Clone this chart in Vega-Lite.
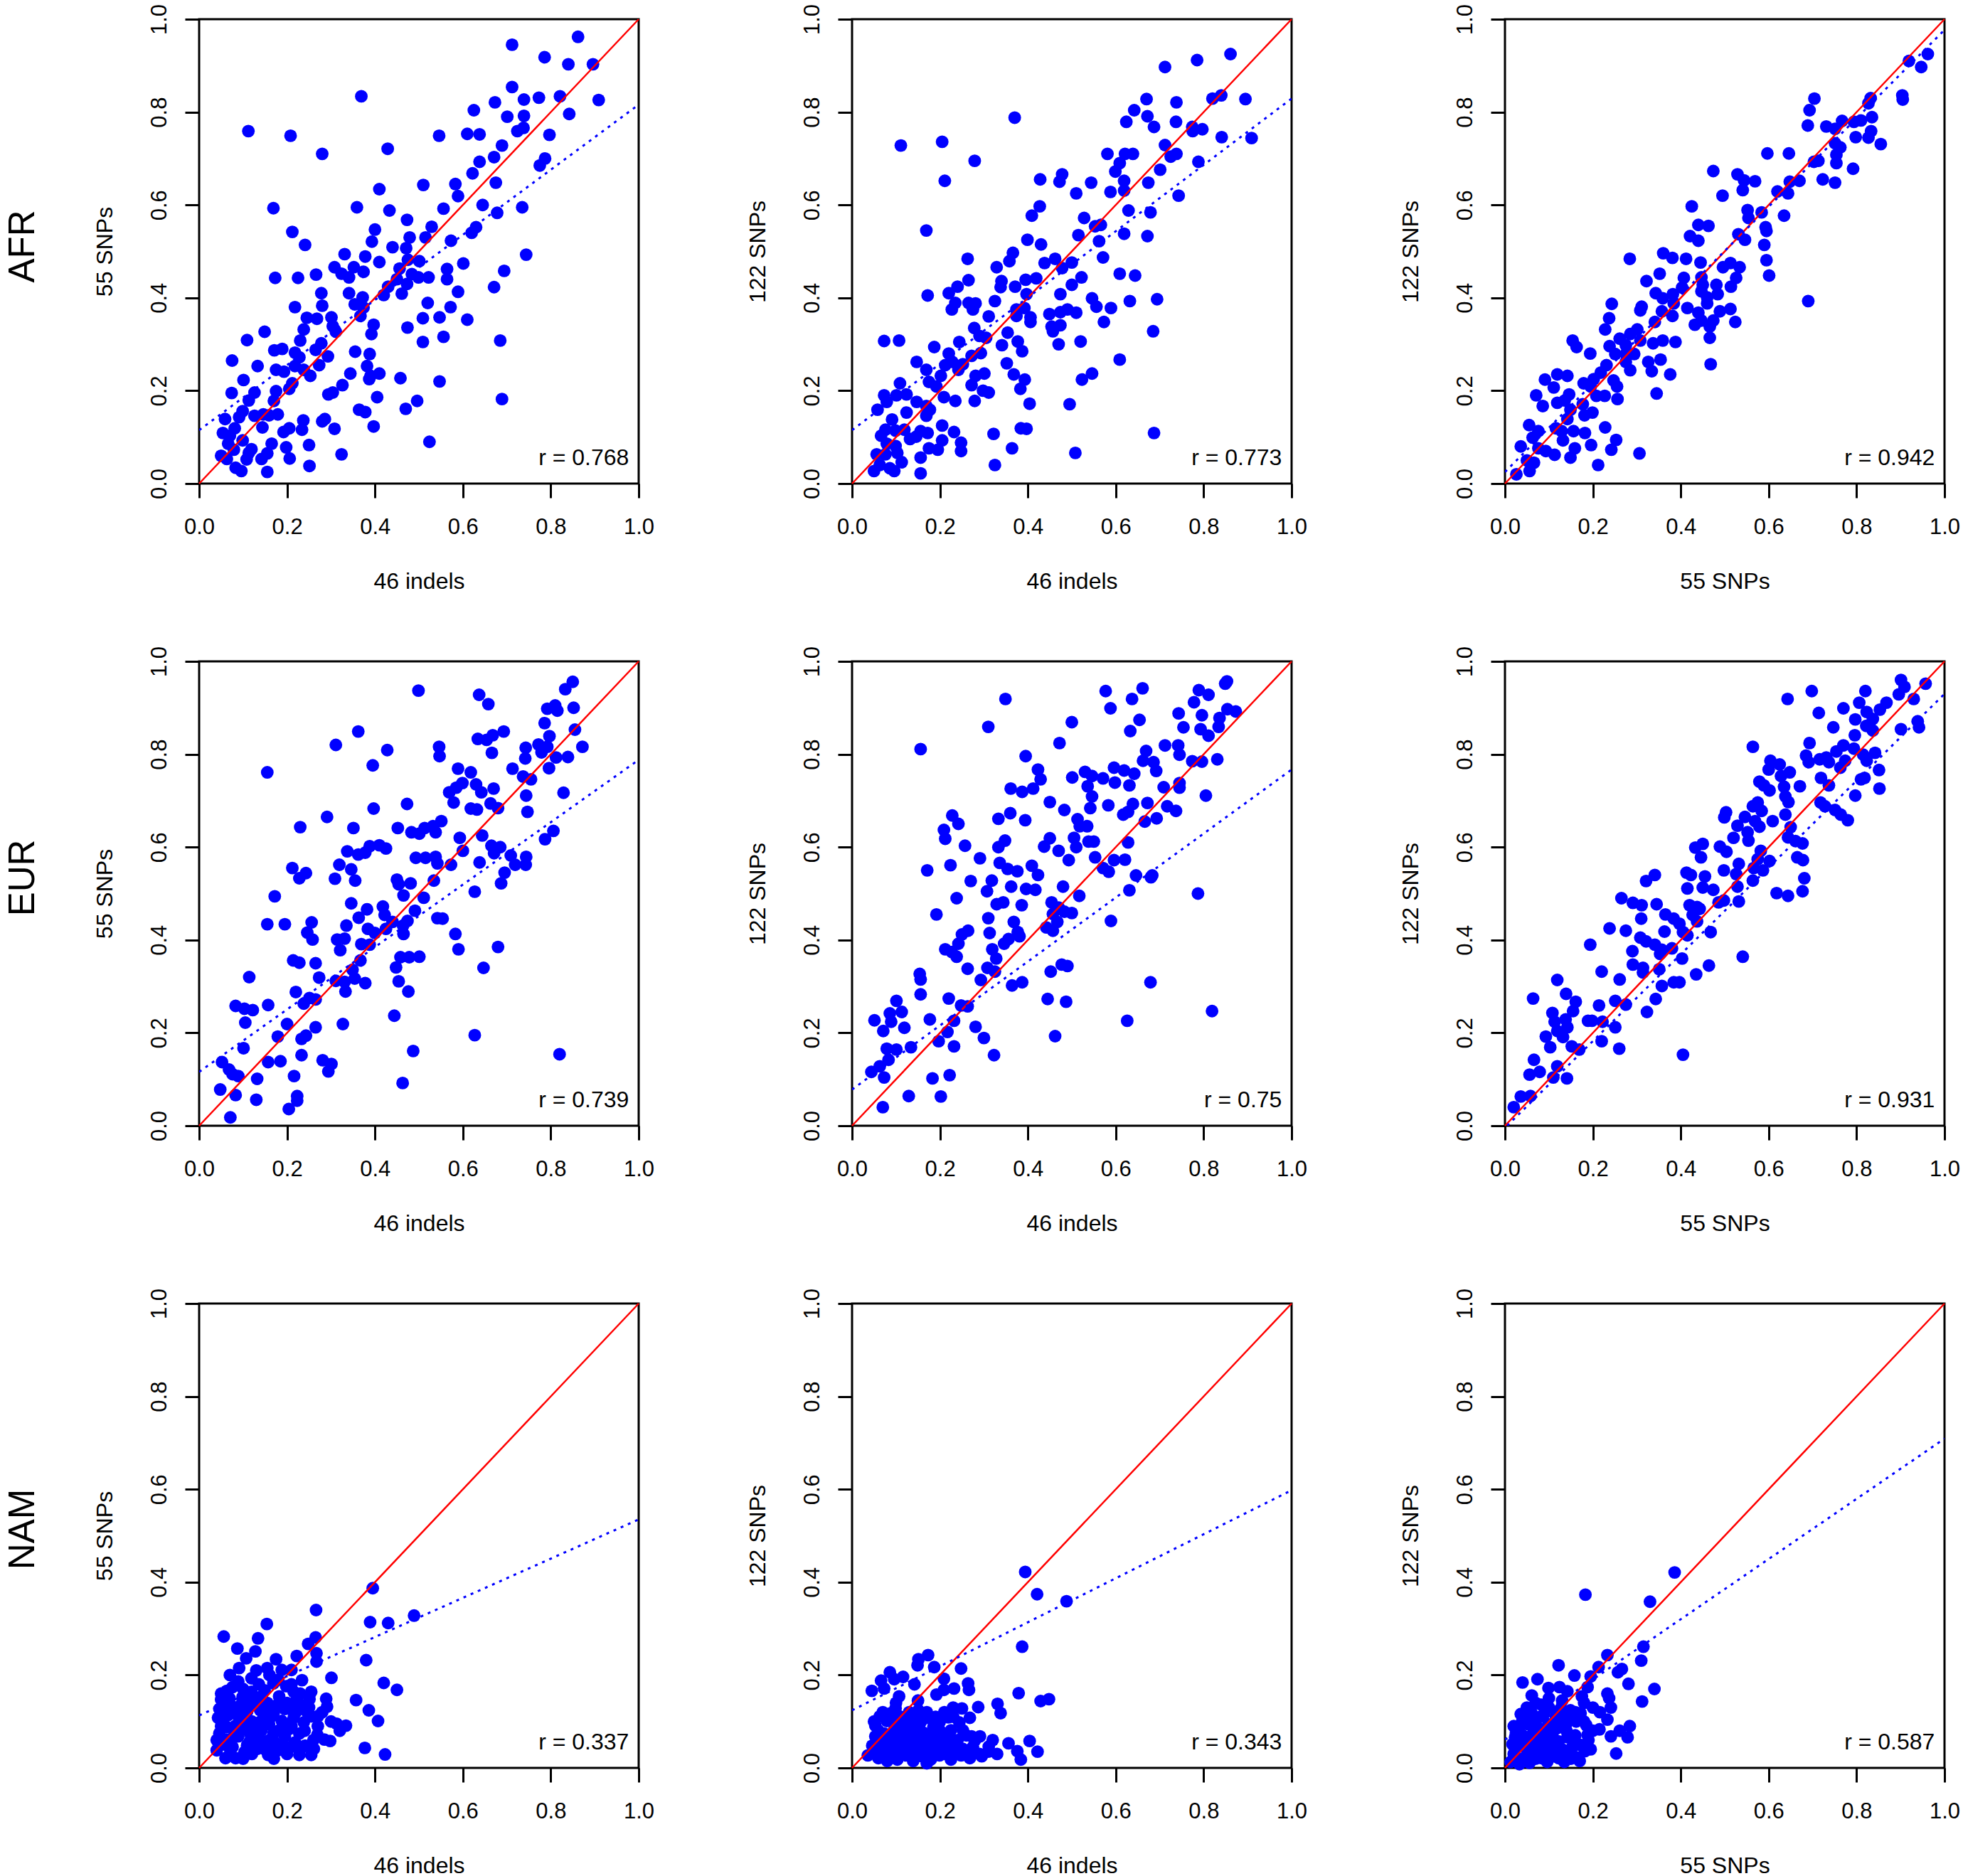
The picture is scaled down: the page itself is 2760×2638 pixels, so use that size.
{
  "$schema": "https://vega.github.io/schema/vega-lite/v6.json",
  "background": "white",
  "autosize": {"type": "pad"},
  "padding": {"left": 5, "top": 3, "right": 5, "bottom": 5},
  "config": {
    "view": {"stroke": "black", "strokeWidth": 3},
    "font": "Liberation Sans",
    "axis": {
      "grid": false, "domain": false, "ticks": true, "tickSize": 20, "tickWidth": 3, "tickColor": "black",
      "labelFont": "Liberation Sans", "labelFontSize": 31, "labelColor": "black",
      "titleFont": "Liberation Sans", "titleFontSize": 32, "titleFontWeight": "normal", "titleColor": "black",
      "labelFlush": false, "labelOverlap": false
    },
    "axisX": {"labelPadding": 26, "titlePadding": 46},
    "axisY": {"labelAngle": 270, "labelAlign": "center", "labelBaseline": "alphabetic", "labelPadding": 27, "titlePadding": 44},
    "title": {"font": "Liberation Sans", "fontSize": 51, "fontWeight": "normal", "color": "black", "orient": "left", "anchor": "middle", "offset": 72}
  },
  "datasets": {
    "p1": [
{"x":0.862,"y":0.962},{"x":0.712,"y":0.945},{"x":0.786,"y":0.918},{"x":0.840,"y":0.903},{"x":0.896,"y":0.903},{"x":0.712,"y":0.854},{"x":0.909,"y":0.826},{"x":0.739,"y":0.827},{"x":0.773,"y":0.831},{"x":0.821,"y":0.834},{"x":0.673,"y":0.821},{"x":0.625,"y":0.804},{"x":0.701,"y":0.790},{"x":0.739,"y":0.792},{"x":0.842,"y":0.796},{"x":0.369,"y":0.834},{"x":0.112,"y":0.759},{"x":0.208,"y":0.749},{"x":0.280,"y":0.710},{"x":0.429,"y":0.721},{"x":0.546,"y":0.749},{"x":0.610,"y":0.753},{"x":0.638,"y":0.752},{"x":0.724,"y":0.759},{"x":0.738,"y":0.766},{"x":0.797,"y":0.751},{"x":0.689,"y":0.728},{"x":0.671,"y":0.703},{"x":0.638,"y":0.693},{"x":0.622,"y":0.668},{"x":0.787,"y":0.700},{"x":0.775,"y":0.685},{"x":0.510,"y":0.643},{"x":0.583,"y":0.645},{"x":0.589,"y":0.619},{"x":0.410,"y":0.634},{"x":0.675,"y":0.648},{"x":0.169,"y":0.593},{"x":0.359,"y":0.595},{"x":0.433,"y":0.588},{"x":0.556,"y":0.592},{"x":0.645,"y":0.600},{"x":0.678,"y":0.583},{"x":0.735,"y":0.595},{"x":0.473,"y":0.568},{"x":0.529,"y":0.553},{"x":0.212,"y":0.542},{"x":0.241,"y":0.514},{"x":0.400,"y":0.547},{"x":0.393,"y":0.521},{"x":0.479,"y":0.530},{"x":0.515,"y":0.530},{"x":0.573,"y":0.523},{"x":0.620,"y":0.540},{"x":0.630,"y":0.552},{"x":0.440,"y":0.509},{"x":0.471,"y":0.507},{"x":0.744,"y":0.493},{"x":0.331,"y":0.494},{"x":0.378,"y":0.489},{"x":0.410,"y":0.477},{"x":0.475,"y":0.482},{"x":0.501,"y":0.479},{"x":0.601,"y":0.474},{"x":0.308,"y":0.466},{"x":0.352,"y":0.466},{"x":0.374,"y":0.456},{"x":0.324,"y":0.452},{"x":0.341,"y":0.444},{"x":0.173,"y":0.443},{"x":0.225,"y":0.443},{"x":0.266,"y":0.450},{"x":0.456,"y":0.463},{"x":0.484,"y":0.451},{"x":0.499,"y":0.444},{"x":0.522,"y":0.444},{"x":0.564,"y":0.462},{"x":0.564,"y":0.440},{"x":0.450,"y":0.440},{"x":0.694,"y":0.458},{"x":0.671,"y":0.423},{"x":0.430,"y":0.424},{"x":0.473,"y":0.430},{"x":0.278,"y":0.410},{"x":0.341,"y":0.410},{"x":0.420,"y":0.406},{"x":0.461,"y":0.409},{"x":0.589,"y":0.413},{"x":0.372,"y":0.401},{"x":0.354,"y":0.386},{"x":0.374,"y":0.379},{"x":0.280,"y":0.383},{"x":0.218,"y":0.380},{"x":0.520,"y":0.389},{"x":0.572,"y":0.380},{"x":0.367,"y":0.361},{"x":0.245,"y":0.357},{"x":0.268,"y":0.355},{"x":0.301,"y":0.358},{"x":0.509,"y":0.356},{"x":0.547,"y":0.358},{"x":0.610,"y":0.353},{"x":0.304,"y":0.339},{"x":0.397,"y":0.342},{"x":0.238,"y":0.332},{"x":0.311,"y":0.327},{"x":0.392,"y":0.322},{"x":0.474,"y":0.336},{"x":0.149,"y":0.327},{"x":0.109,"y":0.309},{"x":0.230,"y":0.308},{"x":0.685,"y":0.308},{"x":0.509,"y":0.305},{"x":0.556,"y":0.316},{"x":0.171,"y":0.287},{"x":0.189,"y":0.290},{"x":0.278,"y":0.302},{"x":0.265,"y":0.288},{"x":0.218,"y":0.282},{"x":0.228,"y":0.272},{"x":0.293,"y":0.274},{"x":0.355,"y":0.284},{"x":0.388,"y":0.279},{"x":0.075,"y":0.265},{"x":0.133,"y":0.253},{"x":0.175,"y":0.245},{"x":0.193,"y":0.241},{"x":0.218,"y":0.253},{"x":0.238,"y":0.245},{"x":0.273,"y":0.255},{"x":0.253,"y":0.232},{"x":0.382,"y":0.253},{"x":0.390,"y":0.232},{"x":0.410,"y":0.237},{"x":0.344,"y":0.237},{"x":0.458,"y":0.227},{"x":0.547,"y":0.220},{"x":0.387,"y":0.225},{"x":0.101,"y":0.223},{"x":0.212,"y":0.216},{"x":0.205,"y":0.204},{"x":0.326,"y":0.212},{"x":0.074,"y":0.195},{"x":0.126,"y":0.196},{"x":0.175,"y":0.199},{"x":0.113,"y":0.179},{"x":0.170,"y":0.178},{"x":0.294,"y":0.192},{"x":0.304,"y":0.196},{"x":0.405,"y":0.186},{"x":0.496,"y":0.178},{"x":0.689,"y":0.182},{"x":0.099,"y":0.156},{"x":0.091,"y":0.143},{"x":0.059,"y":0.139},{"x":0.126,"y":0.146},{"x":0.146,"y":0.149},{"x":0.159,"y":0.147},{"x":0.179,"y":0.149},{"x":0.364,"y":0.159},{"x":0.378,"y":0.154},{"x":0.470,"y":0.161},{"x":0.280,"y":0.134},{"x":0.286,"y":0.139},{"x":0.237,"y":0.136},{"x":0.397,"y":0.123},{"x":0.081,"y":0.119},{"x":0.144,"y":0.121},{"x":0.205,"y":0.119},{"x":0.192,"y":0.111},{"x":0.234,"y":0.116},{"x":0.308,"y":0.118},{"x":0.054,"y":0.109},{"x":0.070,"y":0.103},{"x":0.099,"y":0.093},{"x":0.066,"y":0.086},{"x":0.165,"y":0.086},{"x":0.198,"y":0.078},{"x":0.250,"y":0.083},{"x":0.524,"y":0.090},{"x":0.079,"y":0.073},{"x":0.119,"y":0.074},{"x":0.113,"y":0.066},{"x":0.155,"y":0.065},{"x":0.050,"y":0.060},{"x":0.063,"y":0.053},{"x":0.108,"y":0.052},{"x":0.142,"y":0.053},{"x":0.206,"y":0.054},{"x":0.324,"y":0.063},{"x":0.083,"y":0.034},{"x":0.096,"y":0.027},{"x":0.155,"y":0.025},{"x":0.251,"y":0.038}
    ],
    "p2": [
{"x":0.861,"y":0.925},{"x":0.785,"y":0.912},{"x":0.712,"y":0.897},{"x":0.670,"y":0.828},{"x":0.738,"y":0.821},{"x":0.820,"y":0.829},{"x":0.840,"y":0.836},{"x":0.895,"y":0.828},{"x":0.642,"y":0.804},{"x":0.672,"y":0.791},{"x":0.624,"y":0.779},{"x":0.687,"y":0.768},{"x":0.737,"y":0.779},{"x":0.774,"y":0.768},{"x":0.797,"y":0.763},{"x":0.775,"y":0.759},{"x":0.841,"y":0.746},{"x":0.909,"y":0.744},{"x":0.370,"y":0.788},{"x":0.111,"y":0.728},{"x":0.205,"y":0.736},{"x":0.279,"y":0.695},{"x":0.211,"y":0.652},{"x":0.712,"y":0.729},{"x":0.725,"y":0.704},{"x":0.738,"y":0.710},{"x":0.788,"y":0.693},{"x":0.701,"y":0.676},{"x":0.581,"y":0.710},{"x":0.621,"y":0.710},{"x":0.639,"y":0.710},{"x":0.609,"y":0.690},{"x":0.599,"y":0.672},{"x":0.428,"y":0.655},{"x":0.472,"y":0.650},{"x":0.478,"y":0.666},{"x":0.544,"y":0.648},{"x":0.510,"y":0.625},{"x":0.588,"y":0.628},{"x":0.619,"y":0.652},{"x":0.619,"y":0.631},{"x":0.674,"y":0.648},{"x":0.743,"y":0.620},{"x":0.427,"y":0.597},{"x":0.409,"y":0.577},{"x":0.169,"y":0.545},{"x":0.528,"y":0.572},{"x":0.553,"y":0.554},{"x":0.566,"y":0.557},{"x":0.629,"y":0.588},{"x":0.679,"y":0.584},{"x":0.515,"y":0.535},{"x":0.562,"y":0.522},{"x":0.619,"y":0.538},{"x":0.672,"y":0.533},{"x":0.399,"y":0.525},{"x":0.430,"y":0.515},{"x":0.263,"y":0.484},{"x":0.366,"y":0.497},{"x":0.358,"y":0.479},{"x":0.329,"y":0.466},{"x":0.438,"y":0.475},{"x":0.462,"y":0.484},{"x":0.500,"y":0.476},{"x":0.478,"y":0.464},{"x":0.571,"y":0.487},{"x":0.265,"y":0.438},{"x":0.340,"y":0.436},{"x":0.338,"y":0.423},{"x":0.371,"y":0.424},{"x":0.395,"y":0.439},{"x":0.419,"y":0.442},{"x":0.522,"y":0.444},{"x":0.500,"y":0.428},{"x":0.609,"y":0.452},{"x":0.644,"y":0.448},{"x":0.172,"y":0.405},{"x":0.220,"y":0.410},{"x":0.240,"y":0.424},{"x":0.397,"y":0.408},{"x":0.474,"y":0.408},{"x":0.325,"y":0.393},{"x":0.235,"y":0.389},{"x":0.227,"y":0.375},{"x":0.265,"y":0.389},{"x":0.281,"y":0.388},{"x":0.275,"y":0.375},{"x":0.374,"y":0.375},{"x":0.392,"y":0.378},{"x":0.374,"y":0.361},{"x":0.406,"y":0.358},{"x":0.406,"y":0.348},{"x":0.311,"y":0.360},{"x":0.449,"y":0.365},{"x":0.474,"y":0.369},{"x":0.490,"y":0.375},{"x":0.510,"y":0.368},{"x":0.546,"y":0.399},{"x":0.556,"y":0.381},{"x":0.589,"y":0.378},{"x":0.632,"y":0.393},{"x":0.694,"y":0.397},{"x":0.573,"y":0.348},{"x":0.454,"y":0.338},{"x":0.474,"y":0.341},{"x":0.457,"y":0.328},{"x":0.278,"y":0.335},{"x":0.290,"y":0.318},{"x":0.305,"y":0.314},{"x":0.354,"y":0.325},{"x":0.685,"y":0.328},{"x":0.073,"y":0.307},{"x":0.107,"y":0.308},{"x":0.244,"y":0.305},{"x":0.187,"y":0.294},{"x":0.341,"y":0.298},{"x":0.377,"y":0.306},{"x":0.387,"y":0.285},{"x":0.470,"y":0.300},{"x":0.520,"y":0.306},{"x":0.220,"y":0.280},{"x":0.272,"y":0.275},{"x":0.293,"y":0.281},{"x":0.147,"y":0.262},{"x":0.169,"y":0.245},{"x":0.212,"y":0.255},{"x":0.228,"y":0.262},{"x":0.242,"y":0.245},{"x":0.252,"y":0.257},{"x":0.202,"y":0.232},{"x":0.175,"y":0.219},{"x":0.192,"y":0.209},{"x":0.352,"y":0.259},{"x":0.368,"y":0.235},{"x":0.301,"y":0.237},{"x":0.281,"y":0.232},{"x":0.272,"y":0.212},{"x":0.393,"y":0.224},{"x":0.383,"y":0.204},{"x":0.298,"y":0.200},{"x":0.311,"y":0.196},{"x":0.609,"y":0.267},{"x":0.546,"y":0.237},{"x":0.523,"y":0.224},{"x":0.109,"y":0.216},{"x":0.073,"y":0.190},{"x":0.101,"y":0.190},{"x":0.124,"y":0.192},{"x":0.079,"y":0.176},{"x":0.147,"y":0.176},{"x":0.169,"y":0.167},{"x":0.058,"y":0.159},{"x":0.124,"y":0.153},{"x":0.169,"y":0.146},{"x":0.177,"y":0.159},{"x":0.209,"y":0.186},{"x":0.235,"y":0.178},{"x":0.279,"y":0.178},{"x":0.404,"y":0.172},{"x":0.495,"y":0.171},{"x":0.091,"y":0.138},{"x":0.076,"y":0.116},{"x":0.099,"y":0.114},{"x":0.119,"y":0.116},{"x":0.066,"y":0.103},{"x":0.132,"y":0.096},{"x":0.146,"y":0.101},{"x":0.156,"y":0.113},{"x":0.172,"y":0.109},{"x":0.205,"y":0.125},{"x":0.232,"y":0.111},{"x":0.384,"y":0.119},{"x":0.397,"y":0.118},{"x":0.322,"y":0.107},{"x":0.687,"y":0.109},{"x":0.079,"y":0.086},{"x":0.099,"y":0.081},{"x":0.056,"y":0.063},{"x":0.076,"y":0.063},{"x":0.103,"y":0.066},{"x":0.113,"y":0.046},{"x":0.156,"y":0.056},{"x":0.175,"y":0.076},{"x":0.195,"y":0.073},{"x":0.205,"y":0.093},{"x":0.248,"y":0.088},{"x":0.248,"y":0.070},{"x":0.364,"y":0.076},{"x":0.508,"y":0.066},{"x":0.050,"y":0.027},{"x":0.063,"y":0.040},{"x":0.086,"y":0.033},{"x":0.096,"y":0.027},{"x":0.156,"y":0.022},{"x":0.325,"y":0.040}
    ],
    "p3": [
{"x":0.962,"y":0.925},{"x":0.919,"y":0.910},{"x":0.947,"y":0.897},{"x":0.904,"y":0.836},{"x":0.905,"y":0.827},{"x":0.704,"y":0.829},{"x":0.693,"y":0.804},{"x":0.689,"y":0.771},{"x":0.832,"y":0.830},{"x":0.827,"y":0.819},{"x":0.731,"y":0.769},{"x":0.751,"y":0.764},{"x":0.767,"y":0.781},{"x":0.794,"y":0.779},{"x":0.810,"y":0.782},{"x":0.835,"y":0.789},{"x":0.833,"y":0.759},{"x":0.827,"y":0.745},{"x":0.798,"y":0.746},{"x":0.855,"y":0.731},{"x":0.751,"y":0.733},{"x":0.763,"y":0.724},{"x":0.754,"y":0.708},{"x":0.754,"y":0.690},{"x":0.703,"y":0.693},{"x":0.713,"y":0.695},{"x":0.792,"y":0.678},{"x":0.723,"y":0.655},{"x":0.751,"y":0.648},{"x":0.597,"y":0.711},{"x":0.646,"y":0.711},{"x":0.474,"y":0.673},{"x":0.529,"y":0.666},{"x":0.544,"y":0.653},{"x":0.541,"y":0.632},{"x":0.569,"y":0.651},{"x":0.648,"y":0.650},{"x":0.670,"y":0.652},{"x":0.620,"y":0.629},{"x":0.644,"y":0.625},{"x":0.495,"y":0.620},{"x":0.425,"y":0.597},{"x":0.552,"y":0.589},{"x":0.554,"y":0.572},{"x":0.584,"y":0.584},{"x":0.635,"y":0.577},{"x":0.440,"y":0.557},{"x":0.463,"y":0.555},{"x":0.593,"y":0.552},{"x":0.595,"y":0.544},{"x":0.531,"y":0.537},{"x":0.546,"y":0.525},{"x":0.421,"y":0.533},{"x":0.440,"y":0.523},{"x":0.590,"y":0.514},{"x":0.595,"y":0.481},{"x":0.601,"y":0.448},{"x":0.284,"y":0.484},{"x":0.360,"y":0.496},{"x":0.381,"y":0.486},{"x":0.412,"y":0.484},{"x":0.445,"y":0.476},{"x":0.496,"y":0.466},{"x":0.513,"y":0.475},{"x":0.534,"y":0.466},{"x":0.526,"y":0.443},{"x":0.514,"y":0.424},{"x":0.352,"y":0.452},{"x":0.322,"y":0.436},{"x":0.407,"y":0.443},{"x":0.403,"y":0.422},{"x":0.447,"y":0.444},{"x":0.450,"y":0.428},{"x":0.447,"y":0.414},{"x":0.481,"y":0.428},{"x":0.484,"y":0.408},{"x":0.343,"y":0.410},{"x":0.359,"y":0.399},{"x":0.382,"y":0.408},{"x":0.384,"y":0.388},{"x":0.460,"y":0.401},{"x":0.460,"y":0.388},{"x":0.690,"y":0.393},{"x":0.243,"y":0.387},{"x":0.311,"y":0.381},{"x":0.308,"y":0.373},{"x":0.415,"y":0.378},{"x":0.357,"y":0.371},{"x":0.381,"y":0.361},{"x":0.440,"y":0.368},{"x":0.447,"y":0.351},{"x":0.489,"y":0.371},{"x":0.513,"y":0.376},{"x":0.524,"y":0.348},{"x":0.474,"y":0.351},{"x":0.466,"y":0.338},{"x":0.432,"y":0.342},{"x":0.341,"y":0.348},{"x":0.237,"y":0.356},{"x":0.228,"y":0.332},{"x":0.301,"y":0.332},{"x":0.285,"y":0.322},{"x":0.261,"y":0.312},{"x":0.275,"y":0.298},{"x":0.308,"y":0.308},{"x":0.337,"y":0.302},{"x":0.359,"y":0.308},{"x":0.388,"y":0.305},{"x":0.466,"y":0.314},{"x":0.154,"y":0.308},{"x":0.163,"y":0.294},{"x":0.194,"y":0.280},{"x":0.238,"y":0.296},{"x":0.251,"y":0.279},{"x":0.275,"y":0.279},{"x":0.294,"y":0.279},{"x":0.275,"y":0.262},{"x":0.285,"y":0.244},{"x":0.326,"y":0.262},{"x":0.354,"y":0.267},{"x":0.334,"y":0.242},{"x":0.376,"y":0.235},{"x":0.468,"y":0.257},{"x":0.231,"y":0.255},{"x":0.218,"y":0.239},{"x":0.202,"y":0.225},{"x":0.179,"y":0.216},{"x":0.195,"y":0.209},{"x":0.208,"y":0.189},{"x":0.227,"y":0.189},{"x":0.247,"y":0.222},{"x":0.255,"y":0.209},{"x":0.256,"y":0.182},{"x":0.345,"y":0.194},{"x":0.091,"y":0.224},{"x":0.119,"y":0.235},{"x":0.142,"y":0.232},{"x":0.111,"y":0.207},{"x":0.071,"y":0.190},{"x":0.146,"y":0.192},{"x":0.136,"y":0.179},{"x":0.119,"y":0.174},{"x":0.086,"y":0.167},{"x":0.149,"y":0.159},{"x":0.177,"y":0.171},{"x":0.181,"y":0.147},{"x":0.199,"y":0.153},{"x":0.142,"y":0.139},{"x":0.055,"y":0.126},{"x":0.076,"y":0.113},{"x":0.116,"y":0.119},{"x":0.129,"y":0.113},{"x":0.156,"y":0.113},{"x":0.182,"y":0.109},{"x":0.228,"y":0.121},{"x":0.063,"y":0.099},{"x":0.036,"y":0.080},{"x":0.076,"y":0.076},{"x":0.093,"y":0.070},{"x":0.113,"y":0.062},{"x":0.132,"y":0.093},{"x":0.159,"y":0.076},{"x":0.149,"y":0.056},{"x":0.196,"y":0.083},{"x":0.242,"y":0.073},{"x":0.253,"y":0.094},{"x":0.306,"y":0.065},{"x":0.212,"y":0.040},{"x":0.050,"y":0.050},{"x":0.066,"y":0.045},{"x":0.026,"y":0.020},{"x":0.056,"y":0.027}
    ],
    "p4": [
{"x":0.850,"y":0.956},{"x":0.833,"y":0.940},{"x":0.499,"y":0.937},{"x":0.637,"y":0.928},{"x":0.658,"y":0.908},{"x":0.792,"y":0.898},{"x":0.810,"y":0.905},{"x":0.815,"y":0.894},{"x":0.852,"y":0.900},{"x":0.786,"y":0.867},{"x":0.797,"y":0.839},{"x":0.855,"y":0.853},{"x":0.693,"y":0.849},{"x":0.634,"y":0.833},{"x":0.654,"y":0.831},{"x":0.668,"y":0.841},{"x":0.666,"y":0.803},{"x":0.362,"y":0.849},{"x":0.311,"y":0.820},{"x":0.428,"y":0.809},{"x":0.546,"y":0.816},{"x":0.547,"y":0.796},{"x":0.395,"y":0.776},{"x":0.155,"y":0.761},{"x":0.743,"y":0.814},{"x":0.772,"y":0.821},{"x":0.792,"y":0.816},{"x":0.779,"y":0.804},{"x":0.742,"y":0.791},{"x":0.812,"y":0.793},{"x":0.839,"y":0.794},{"x":0.872,"y":0.816},{"x":0.713,"y":0.769},{"x":0.796,"y":0.770},{"x":0.589,"y":0.769},{"x":0.618,"y":0.761},{"x":0.737,"y":0.752},{"x":0.755,"y":0.746},{"x":0.569,"y":0.718},{"x":0.585,"y":0.728},{"x":0.599,"y":0.738},{"x":0.579,"y":0.696},{"x":0.630,"y":0.735},{"x":0.642,"y":0.718},{"x":0.670,"y":0.726},{"x":0.744,"y":0.711},{"x":0.829,"y":0.717},{"x":0.397,"y":0.683},{"x":0.473,"y":0.693},{"x":0.291,"y":0.665},{"x":0.230,"y":0.643},{"x":0.351,"y":0.641},{"x":0.452,"y":0.641},{"x":0.618,"y":0.683},{"x":0.632,"y":0.681},{"x":0.663,"y":0.694},{"x":0.680,"y":0.684},{"x":0.747,"y":0.676},{"x":0.483,"y":0.632},{"x":0.501,"y":0.629},{"x":0.513,"y":0.641},{"x":0.538,"y":0.632},{"x":0.551,"y":0.656},{"x":0.532,"y":0.645},{"x":0.644,"y":0.625},{"x":0.593,"y":0.620},{"x":0.806,"y":0.635},{"x":0.787,"y":0.617},{"x":0.337,"y":0.591},{"x":0.362,"y":0.584},{"x":0.378,"y":0.588},{"x":0.388,"y":0.602},{"x":0.410,"y":0.604},{"x":0.425,"y":0.597},{"x":0.319,"y":0.562},{"x":0.346,"y":0.552},{"x":0.355,"y":0.528},{"x":0.309,"y":0.532},{"x":0.212,"y":0.555},{"x":0.228,"y":0.533},{"x":0.243,"y":0.544},{"x":0.493,"y":0.577},{"x":0.515,"y":0.577},{"x":0.538,"y":0.579},{"x":0.542,"y":0.565},{"x":0.600,"y":0.592},{"x":0.573,"y":0.562},{"x":0.638,"y":0.567},{"x":0.665,"y":0.603},{"x":0.685,"y":0.600},{"x":0.671,"y":0.587},{"x":0.709,"y":0.582},{"x":0.719,"y":0.562},{"x":0.744,"y":0.579},{"x":0.743,"y":0.562},{"x":0.695,"y":0.545},{"x":0.687,"y":0.522},{"x":0.450,"y":0.530},{"x":0.454,"y":0.520},{"x":0.481,"y":0.522},{"x":0.465,"y":0.496},{"x":0.511,"y":0.491},{"x":0.534,"y":0.528},{"x":0.627,"y":0.504},{"x":0.172,"y":0.494},{"x":0.346,"y":0.479},{"x":0.382,"y":0.466},{"x":0.418,"y":0.472},{"x":0.422,"y":0.454},{"x":0.363,"y":0.448},{"x":0.491,"y":0.463},{"x":0.542,"y":0.447},{"x":0.554,"y":0.446},{"x":0.155,"y":0.434},{"x":0.195,"y":0.434},{"x":0.256,"y":0.438},{"x":0.246,"y":0.416},{"x":0.258,"y":0.401},{"x":0.335,"y":0.431},{"x":0.384,"y":0.424},{"x":0.400,"y":0.415},{"x":0.425,"y":0.424},{"x":0.440,"y":0.439},{"x":0.464,"y":0.431},{"x":0.474,"y":0.441},{"x":0.465,"y":0.413},{"x":0.314,"y":0.401},{"x":0.331,"y":0.403},{"x":0.321,"y":0.378},{"x":0.369,"y":0.391},{"x":0.388,"y":0.390},{"x":0.583,"y":0.413},{"x":0.590,"y":0.380},{"x":0.680,"y":0.385},{"x":0.214,"y":0.356},{"x":0.228,"y":0.351},{"x":0.265,"y":0.350},{"x":0.367,"y":0.356},{"x":0.349,"y":0.336},{"x":0.458,"y":0.363},{"x":0.478,"y":0.363},{"x":0.501,"y":0.364},{"x":0.448,"y":0.341},{"x":0.647,"y":0.340},{"x":0.114,"y":0.320},{"x":0.273,"y":0.319},{"x":0.311,"y":0.312},{"x":0.331,"y":0.310},{"x":0.354,"y":0.317},{"x":0.378,"y":0.307},{"x":0.333,"y":0.289},{"x":0.454,"y":0.311},{"x":0.476,"y":0.289},{"x":0.220,"y":0.288},{"x":0.238,"y":0.263},{"x":0.251,"y":0.275},{"x":0.265,"y":0.272},{"x":0.083,"y":0.258},{"x":0.103,"y":0.252},{"x":0.122,"y":0.249},{"x":0.157,"y":0.260},{"x":0.105,"y":0.222},{"x":0.200,"y":0.219},{"x":0.265,"y":0.212},{"x":0.327,"y":0.219},{"x":0.444,"y":0.237},{"x":0.179,"y":0.192},{"x":0.233,"y":0.187},{"x":0.243,"y":0.194},{"x":0.627,"y":0.195},{"x":0.101,"y":0.167},{"x":0.157,"y":0.137},{"x":0.185,"y":0.139},{"x":0.233,"y":0.152},{"x":0.281,"y":0.141},{"x":0.301,"y":0.133},{"x":0.294,"y":0.117},{"x":0.487,"y":0.161},{"x":0.820,"y":0.154},{"x":0.052,"y":0.137},{"x":0.068,"y":0.121},{"x":0.076,"y":0.111},{"x":0.089,"y":0.107},{"x":0.132,"y":0.101},{"x":0.216,"y":0.107},{"x":0.048,"y":0.078},{"x":0.083,"y":0.066},{"x":0.130,"y":0.056},{"x":0.223,"y":0.064},{"x":0.223,"y":0.054},{"x":0.204,"y":0.036},{"x":0.463,"y":0.092},{"x":0.071,"y":0.018}
    ],
    "p5": [
{"x":0.853,"y":0.957},{"x":0.849,"y":0.952},{"x":0.789,"y":0.938},{"x":0.811,"y":0.928},{"x":0.778,"y":0.912},{"x":0.661,"y":0.942},{"x":0.577,"y":0.936},{"x":0.637,"y":0.919},{"x":0.588,"y":0.899},{"x":0.349,"y":0.919},{"x":0.743,"y":0.888},{"x":0.796,"y":0.884},{"x":0.854,"y":0.897},{"x":0.873,"y":0.892},{"x":0.836,"y":0.878},{"x":0.834,"y":0.859},{"x":0.793,"y":0.854},{"x":0.811,"y":0.840},{"x":0.754,"y":0.858},{"x":0.654,"y":0.874},{"x":0.633,"y":0.850},{"x":0.500,"y":0.869},{"x":0.310,"y":0.859},{"x":0.472,"y":0.824},{"x":0.156,"y":0.811},{"x":0.712,"y":0.819},{"x":0.742,"y":0.819},{"x":0.745,"y":0.799},{"x":0.669,"y":0.807},{"x":0.662,"y":0.786},{"x":0.686,"y":0.783},{"x":0.692,"y":0.764},{"x":0.774,"y":0.785},{"x":0.796,"y":0.784},{"x":0.831,"y":0.789},{"x":0.395,"y":0.796},{"x":0.423,"y":0.767},{"x":0.429,"y":0.746},{"x":0.596,"y":0.771},{"x":0.619,"y":0.765},{"x":0.642,"y":0.758},{"x":0.501,"y":0.750},{"x":0.530,"y":0.762},{"x":0.546,"y":0.753},{"x":0.571,"y":0.748},{"x":0.536,"y":0.731},{"x":0.598,"y":0.739},{"x":0.631,"y":0.733},{"x":0.709,"y":0.729},{"x":0.745,"y":0.738},{"x":0.745,"y":0.728},{"x":0.361,"y":0.726},{"x":0.387,"y":0.719},{"x":0.412,"y":0.726},{"x":0.546,"y":0.709},{"x":0.450,"y":0.697},{"x":0.483,"y":0.680},{"x":0.542,"y":0.684},{"x":0.583,"y":0.690},{"x":0.672,"y":0.695},{"x":0.805,"y":0.711},{"x":0.639,"y":0.693},{"x":0.628,"y":0.676},{"x":0.617,"y":0.670},{"x":0.717,"y":0.688},{"x":0.737,"y":0.678},{"x":0.666,"y":0.655},{"x":0.693,"y":0.662},{"x":0.228,"y":0.668},{"x":0.242,"y":0.650},{"x":0.333,"y":0.661},{"x":0.360,"y":0.673},{"x":0.394,"y":0.658},{"x":0.513,"y":0.660},{"x":0.518,"y":0.645},{"x":0.535,"y":0.645},{"x":0.209,"y":0.637},{"x":0.212,"y":0.618},{"x":0.257,"y":0.603},{"x":0.333,"y":0.600},{"x":0.348,"y":0.614},{"x":0.450,"y":0.619},{"x":0.437,"y":0.601},{"x":0.505,"y":0.620},{"x":0.510,"y":0.600},{"x":0.470,"y":0.592},{"x":0.493,"y":0.572},{"x":0.538,"y":0.612},{"x":0.550,"y":0.612},{"x":0.553,"y":0.578},{"x":0.628,"y":0.610},{"x":0.596,"y":0.572},{"x":0.621,"y":0.573},{"x":0.171,"y":0.550},{"x":0.224,"y":0.561},{"x":0.291,"y":0.576},{"x":0.336,"y":0.566},{"x":0.354,"y":0.553},{"x":0.376,"y":0.548},{"x":0.409,"y":0.560},{"x":0.423,"y":0.540},{"x":0.571,"y":0.555},{"x":0.584,"y":0.547},{"x":0.646,"y":0.539},{"x":0.680,"y":0.535},{"x":0.683,"y":0.539},{"x":0.270,"y":0.527},{"x":0.318,"y":0.528},{"x":0.307,"y":0.505},{"x":0.362,"y":0.515},{"x":0.396,"y":0.510},{"x":0.417,"y":0.508},{"x":0.480,"y":0.515},{"x":0.517,"y":0.495},{"x":0.631,"y":0.507},{"x":0.787,"y":0.500},{"x":0.238,"y":0.490},{"x":0.329,"y":0.477},{"x":0.344,"y":0.481},{"x":0.386,"y":0.475},{"x":0.454,"y":0.481},{"x":0.470,"y":0.470},{"x":0.483,"y":0.461},{"x":0.500,"y":0.458},{"x":0.457,"y":0.456},{"x":0.192,"y":0.455},{"x":0.310,"y":0.447},{"x":0.368,"y":0.439},{"x":0.442,"y":0.427},{"x":0.457,"y":0.420},{"x":0.467,"y":0.439},{"x":0.589,"y":0.441},{"x":0.250,"y":0.412},{"x":0.264,"y":0.420},{"x":0.313,"y":0.415},{"x":0.377,"y":0.417},{"x":0.381,"y":0.408},{"x":0.356,"y":0.402},{"x":0.346,"y":0.392},{"x":0.242,"y":0.392},{"x":0.212,"y":0.380},{"x":0.227,"y":0.374},{"x":0.238,"y":0.364},{"x":0.319,"y":0.380},{"x":0.328,"y":0.360},{"x":0.263,"y":0.338},{"x":0.308,"y":0.340},{"x":0.325,"y":0.332},{"x":0.477,"y":0.347},{"x":0.490,"y":0.344},{"x":0.452,"y":0.332},{"x":0.154,"y":0.327},{"x":0.156,"y":0.315},{"x":0.293,"y":0.314},{"x":0.364,"y":0.302},{"x":0.387,"y":0.309},{"x":0.679,"y":0.309},{"x":0.156,"y":0.283},{"x":0.101,"y":0.269},{"x":0.220,"y":0.274},{"x":0.248,"y":0.259},{"x":0.263,"y":0.257},{"x":0.445,"y":0.273},{"x":0.487,"y":0.267},{"x":0.086,"y":0.242},{"x":0.113,"y":0.245},{"x":0.051,"y":0.227},{"x":0.089,"y":0.224},{"x":0.119,"y":0.211},{"x":0.177,"y":0.229},{"x":0.232,"y":0.226},{"x":0.071,"y":0.204},{"x":0.217,"y":0.202},{"x":0.281,"y":0.213},{"x":0.300,"y":0.189},{"x":0.626,"y":0.226},{"x":0.819,"y":0.247},{"x":0.462,"y":0.193},{"x":0.197,"y":0.182},{"x":0.232,"y":0.171},{"x":0.079,"y":0.166},{"x":0.101,"y":0.164},{"x":0.134,"y":0.169},{"x":0.083,"y":0.142},{"x":0.323,"y":0.152},{"x":0.063,"y":0.128},{"x":0.044,"y":0.116},{"x":0.073,"y":0.104},{"x":0.183,"y":0.102},{"x":0.222,"y":0.109},{"x":0.129,"y":0.064},{"x":0.202,"y":0.063},{"x":0.070,"y":0.040}
    ],
    "p6": [
{"x":0.901,"y":0.960},{"x":0.909,"y":0.945},{"x":0.957,"y":0.952},{"x":0.820,"y":0.936},{"x":0.698,"y":0.936},{"x":0.643,"y":0.919},{"x":0.868,"y":0.911},{"x":0.896,"y":0.929},{"x":0.930,"y":0.919},{"x":0.770,"y":0.899},{"x":0.806,"y":0.911},{"x":0.714,"y":0.889},{"x":0.823,"y":0.891},{"x":0.853,"y":0.896},{"x":0.797,"y":0.875},{"x":0.837,"y":0.876},{"x":0.939,"y":0.871},{"x":0.942,"y":0.858},{"x":0.901,"y":0.854},{"x":0.747,"y":0.858},{"x":0.822,"y":0.861},{"x":0.837,"y":0.851},{"x":0.796,"y":0.841},{"x":0.693,"y":0.824},{"x":0.564,"y":0.816},{"x":0.770,"y":0.819},{"x":0.754,"y":0.806},{"x":0.794,"y":0.812},{"x":0.842,"y":0.803},{"x":0.815,"y":0.799},{"x":0.685,"y":0.797},{"x":0.691,"y":0.783},{"x":0.716,"y":0.789},{"x":0.731,"y":0.793},{"x":0.737,"y":0.783},{"x":0.774,"y":0.786},{"x":0.763,"y":0.771},{"x":0.823,"y":0.786},{"x":0.851,"y":0.766},{"x":0.604,"y":0.786},{"x":0.625,"y":0.778},{"x":0.600,"y":0.767},{"x":0.648,"y":0.761},{"x":0.628,"y":0.753},{"x":0.719,"y":0.749},{"x":0.737,"y":0.733},{"x":0.810,"y":0.746},{"x":0.818,"y":0.749},{"x":0.852,"y":0.726},{"x":0.797,"y":0.711},{"x":0.579,"y":0.741},{"x":0.589,"y":0.733},{"x":0.602,"y":0.722},{"x":0.635,"y":0.730},{"x":0.671,"y":0.731},{"x":0.638,"y":0.709},{"x":0.645,"y":0.697},{"x":0.575,"y":0.696},{"x":0.564,"y":0.688},{"x":0.584,"y":0.678},{"x":0.718,"y":0.696},{"x":0.728,"y":0.688},{"x":0.751,"y":0.680},{"x":0.764,"y":0.670},{"x":0.780,"y":0.658},{"x":0.503,"y":0.675},{"x":0.499,"y":0.664},{"x":0.546,"y":0.665},{"x":0.529,"y":0.646},{"x":0.569,"y":0.656},{"x":0.579,"y":0.644},{"x":0.609,"y":0.656},{"x":0.638,"y":0.670},{"x":0.650,"y":0.643},{"x":0.552,"y":0.632},{"x":0.520,"y":0.620},{"x":0.554,"y":0.614},{"x":0.644,"y":0.621},{"x":0.661,"y":0.613},{"x":0.677,"y":0.608},{"x":0.450,"y":0.607},{"x":0.433,"y":0.599},{"x":0.446,"y":0.578},{"x":0.489,"y":0.601},{"x":0.504,"y":0.590},{"x":0.582,"y":0.592},{"x":0.575,"y":0.574},{"x":0.602,"y":0.570},{"x":0.587,"y":0.550},{"x":0.665,"y":0.578},{"x":0.678,"y":0.572},{"x":0.681,"y":0.533},{"x":0.677,"y":0.505},{"x":0.618,"y":0.501},{"x":0.644,"y":0.495},{"x":0.532,"y":0.564},{"x":0.526,"y":0.542},{"x":0.566,"y":0.555},{"x":0.564,"y":0.528},{"x":0.498,"y":0.550},{"x":0.413,"y":0.545},{"x":0.423,"y":0.540},{"x":0.455,"y":0.537},{"x":0.450,"y":0.513},{"x":0.474,"y":0.508},{"x":0.529,"y":0.515},{"x":0.532,"y":0.483},{"x":0.415,"y":0.511},{"x":0.341,"y":0.540},{"x":0.321,"y":0.527},{"x":0.265,"y":0.490},{"x":0.291,"y":0.480},{"x":0.311,"y":0.475},{"x":0.345,"y":0.477},{"x":0.365,"y":0.455},{"x":0.384,"y":0.446},{"x":0.397,"y":0.435},{"x":0.420,"y":0.475},{"x":0.437,"y":0.471},{"x":0.443,"y":0.467},{"x":0.427,"y":0.454},{"x":0.437,"y":0.440},{"x":0.486,"y":0.481},{"x":0.498,"y":0.485},{"x":0.310,"y":0.446},{"x":0.238,"y":0.425},{"x":0.275,"y":0.420},{"x":0.363,"y":0.418},{"x":0.405,"y":0.417},{"x":0.415,"y":0.410},{"x":0.468,"y":0.417},{"x":0.308,"y":0.405},{"x":0.321,"y":0.397},{"x":0.341,"y":0.390},{"x":0.357,"y":0.379},{"x":0.353,"y":0.370},{"x":0.380,"y":0.382},{"x":0.194,"y":0.390},{"x":0.290,"y":0.376},{"x":0.403,"y":0.360},{"x":0.541,"y":0.364},{"x":0.291,"y":0.347},{"x":0.314,"y":0.340},{"x":0.314,"y":0.330},{"x":0.351,"y":0.337},{"x":0.464,"y":0.345},{"x":0.435,"y":0.326},{"x":0.220,"y":0.332},{"x":0.261,"y":0.315},{"x":0.357,"y":0.301},{"x":0.384,"y":0.309},{"x":0.397,"y":0.309},{"x":0.119,"y":0.314},{"x":0.139,"y":0.284},{"x":0.161,"y":0.267},{"x":0.155,"y":0.247},{"x":0.064,"y":0.274},{"x":0.108,"y":0.243},{"x":0.214,"y":0.259},{"x":0.251,"y":0.269},{"x":0.275,"y":0.261},{"x":0.343,"y":0.273},{"x":0.323,"y":0.245},{"x":0.113,"y":0.224},{"x":0.138,"y":0.229},{"x":0.189,"y":0.226},{"x":0.198,"y":0.226},{"x":0.222,"y":0.224},{"x":0.251,"y":0.212},{"x":0.142,"y":0.212},{"x":0.093,"y":0.192},{"x":0.119,"y":0.204},{"x":0.132,"y":0.191},{"x":0.103,"y":0.169},{"x":0.152,"y":0.171},{"x":0.169,"y":0.164},{"x":0.220,"y":0.182},{"x":0.260,"y":0.166},{"x":0.405,"y":0.153},{"x":0.066,"y":0.142},{"x":0.119,"y":0.128},{"x":0.079,"y":0.116},{"x":0.056,"y":0.110},{"x":0.110,"y":0.104},{"x":0.141,"y":0.102},{"x":0.036,"y":0.063},{"x":0.058,"y":0.064},{"x":0.020,"y":0.040}
    ],
    "p7": [
{"x":0.395,"y":0.387},{"x":0.266,"y":0.340},{"x":0.489,"y":0.328},{"x":0.389,"y":0.314},{"x":0.430,"y":0.312},{"x":0.154,"y":0.310},{"x":0.056,"y":0.283},{"x":0.134,"y":0.279},{"x":0.265,"y":0.281},{"x":0.248,"y":0.267},{"x":0.087,"y":0.257},{"x":0.128,"y":0.251},{"x":0.107,"y":0.236},{"x":0.222,"y":0.241},{"x":0.267,"y":0.247},{"x":0.267,"y":0.229},{"x":0.380,"y":0.232},{"x":0.175,"y":0.234},{"x":0.091,"y":0.215},{"x":0.155,"y":0.215},{"x":0.188,"y":0.211},{"x":0.210,"y":0.211},{"x":0.301,"y":0.194},{"x":0.234,"y":0.189},{"x":0.420,"y":0.183},{"x":0.450,"y":0.168},{"x":0.357,"y":0.146},{"x":0.386,"y":0.124},{"x":0.407,"y":0.101},{"x":0.289,"y":0.149},{"x":0.291,"y":0.132},{"x":0.377,"y":0.043},{"x":0.423,"y":0.029},{"x":0.334,"y":0.091},{"x":0.313,"y":0.095},{"x":0.298,"y":0.058},{"x":0.269,"y":0.071},{"x":0.271,"y":0.112},{"x":0.255,"y":0.164},{"x":0.251,"y":0.148},{"x":0.198,"y":0.176},{"x":0.215,"y":0.164},{"x":0.169,"y":0.182},{"x":0.063,"y":0.166},{"x":0.076,"y":0.174},{"x":0.089,"y":0.186},{"x":0.119,"y":0.193},{"x":0.136,"y":0.180},{"x":0.149,"y":0.167},{"x":0.050,"y":0.147},{"x":0.069,"y":0.150},{"x":0.099,"y":0.153},{"x":0.126,"y":0.147},{"x":0.155,"y":0.140},{"x":0.175,"y":0.134},{"x":0.195,"y":0.127},{"x":0.212,"y":0.124},{"x":0.235,"y":0.134},{"x":0.046,"y":0.127},{"x":0.043,"y":0.108},{"x":0.066,"y":0.114},{"x":0.083,"y":0.124},{"x":0.109,"y":0.121},{"x":0.139,"y":0.124},{"x":0.165,"y":0.111},{"x":0.188,"y":0.101},{"x":0.215,"y":0.108},{"x":0.238,"y":0.098},{"x":0.255,"y":0.111},{"x":0.046,"y":0.074},{"x":0.063,"y":0.088},{"x":0.083,"y":0.091},{"x":0.103,"y":0.084},{"x":0.122,"y":0.094},{"x":0.142,"y":0.081},{"x":0.159,"y":0.094},{"x":0.182,"y":0.081},{"x":0.205,"y":0.084},{"x":0.228,"y":0.074},{"x":0.063,"y":0.061},{"x":0.089,"y":0.068},{"x":0.116,"y":0.058},{"x":0.139,"y":0.061},{"x":0.169,"y":0.058},{"x":0.195,"y":0.068},{"x":0.218,"y":0.055},{"x":0.241,"y":0.048},{"x":0.255,"y":0.028},{"x":0.228,"y":0.028},{"x":0.040,"y":0.038},{"x":0.060,"y":0.021},{"x":0.083,"y":0.021},{"x":0.103,"y":0.034},{"x":0.132,"y":0.041},{"x":0.157,"y":0.028},{"x":0.179,"y":0.038},{"x":0.208,"y":0.045},{"x":0.285,"y":0.061},{"x":0.076,"y":0.045},{"x":0.109,"y":0.048},{"x":0.073,"y":0.134},{"x":0.096,"y":0.104},{"x":0.116,"y":0.074},{"x":0.149,"y":0.114},{"x":0.169,"y":0.074},{"x":0.182,"y":0.154},{"x":0.119,"y":0.164},{"x":0.096,"y":0.137},{"x":0.142,"y":0.154},{"x":0.056,"y":0.094},{"x":0.202,"y":0.094},{"x":0.162,"y":0.041},{"x":0.261,"y":0.041},{"x":0.222,"y":0.147},{"x":0.245,"y":0.121},{"x":0.132,"y":0.134},
{"x":0.05,"y":0.16},{"x":0.07,"y":0.2},{"x":0.1,"y":0.17},{"x":0.13,"y":0.21},{"x":0.16,"y":0.2},{"x":0.18,"y":0.19},{"x":0.21,"y":0.18},{"x":0.23,"y":0.16},{"x":0.06,"y":0.13},{"x":0.09,"y":0.11},{"x":0.12,"y":0.1},{"x":0.15,"y":0.13},{"x":0.17,"y":0.12},{"x":0.2,"y":0.14},{"x":0.22,"y":0.12},{"x":0.25,"y":0.13},{"x":0.05,"y":0.09},{"x":0.08,"y":0.07},{"x":0.11,"y":0.05},{"x":0.14,"y":0.1},{"x":0.16,"y":0.06},{"x":0.19,"y":0.05},{"x":0.21,"y":0.09},{"x":0.24,"y":0.08},{"x":0.26,"y":0.06},{"x":0.07,"y":0.03},{"x":0.1,"y":0.02},{"x":0.12,"y":0.03},{"x":0.15,"y":0.04},{"x":0.17,"y":0.02},{"x":0.2,"y":0.03},{"x":0.23,"y":0.04},{"x":0.06,"y":0.05},{"x":0.04,"y":0.06},{"x":0.27,"y":0.09},{"x":0.28,"y":0.12},{"x":0.3,"y":0.1},{"x":0.32,"y":0.08},{"x":0.11,"y":0.14},{"x":0.13,"y":0.07}
    ],
    "p8": [
{"x":0.394,"y":0.422},{"x":0.421,"y":0.374},{"x":0.488,"y":0.359},{"x":0.387,"y":0.261},{"x":0.173,"y":0.243},{"x":0.151,"y":0.234},{"x":0.149,"y":0.221},{"x":0.187,"y":0.217},{"x":0.248,"y":0.214},{"x":0.086,"y":0.206},{"x":0.116,"y":0.196},{"x":0.066,"y":0.188},{"x":0.073,"y":0.171},{"x":0.096,"y":0.191},{"x":0.142,"y":0.180},{"x":0.209,"y":0.192},{"x":0.232,"y":0.171},{"x":0.264,"y":0.182},{"x":0.266,"y":0.168},{"x":0.045,"y":0.166},{"x":0.107,"y":0.154},{"x":0.192,"y":0.158},{"x":0.209,"y":0.168},{"x":0.379,"y":0.161},{"x":0.429,"y":0.144},{"x":0.448,"y":0.148},{"x":0.331,"y":0.138},{"x":0.338,"y":0.118},{"x":0.287,"y":0.131},{"x":0.250,"y":0.128},{"x":0.151,"y":0.124},{"x":0.099,"y":0.128},{"x":0.089,"y":0.118},{"x":0.063,"y":0.111},{"x":0.219,"y":0.109},{"x":0.268,"y":0.108},{"x":0.244,"y":0.098},{"x":0.172,"y":0.108},{"x":0.156,"y":0.098},{"x":0.126,"y":0.104},{"x":0.053,"y":0.091},{"x":0.404,"y":0.058},{"x":0.356,"y":0.053},{"x":0.376,"y":0.036},{"x":0.384,"y":0.018},{"x":0.422,"y":0.035},{"x":0.311,"y":0.046},{"x":0.291,"y":0.068},{"x":0.295,"y":0.025},{"x":0.053,"y":0.068},{"x":0.073,"y":0.074},{"x":0.096,"y":0.081},{"x":0.119,"y":0.074},{"x":0.139,"y":0.084},{"x":0.162,"y":0.076},{"x":0.185,"y":0.088},{"x":0.205,"y":0.074},{"x":0.225,"y":0.081},{"x":0.252,"y":0.081},{"x":0.272,"y":0.068},{"x":0.046,"y":0.048},{"x":0.066,"y":0.055},{"x":0.086,"y":0.045},{"x":0.106,"y":0.055},{"x":0.126,"y":0.048},{"x":0.146,"y":0.058},{"x":0.166,"y":0.048},{"x":0.192,"y":0.055},{"x":0.215,"y":0.048},{"x":0.235,"y":0.055},{"x":0.252,"y":0.041},{"x":0.275,"y":0.045},{"x":0.036,"y":0.027},{"x":0.060,"y":0.021},{"x":0.079,"y":0.027},{"x":0.103,"y":0.018},{"x":0.123,"y":0.027},{"x":0.139,"y":0.015},{"x":0.159,"y":0.025},{"x":0.179,"y":0.018},{"x":0.199,"y":0.027},{"x":0.225,"y":0.018},{"x":0.248,"y":0.027},{"x":0.268,"y":0.021},{"x":0.079,"y":0.101},{"x":0.113,"y":0.091},{"x":0.199,"y":0.098},{"x":0.179,"y":0.065},{"x":0.113,"y":0.061},{"x":0.212,"y":0.061},{"x":0.063,"y":0.038},{"x":0.152,"y":0.035},{"x":0.238,"y":0.035},{"x":0.132,"y":0.098},
{"x":0.05,"y":0.1},{"x":0.07,"y":0.12},{"x":0.09,"y":0.1},{"x":0.11,"y":0.11},{"x":0.13,"y":0.12},{"x":0.15,"y":0.11},{"x":0.17,"y":0.12},{"x":0.19,"y":0.11},{"x":0.21,"y":0.12},{"x":0.23,"y":0.11},{"x":0.06,"y":0.08},{"x":0.08,"y":0.06},{"x":0.1,"y":0.07},{"x":0.12,"y":0.06},{"x":0.14,"y":0.07},{"x":0.16,"y":0.06},{"x":0.18,"y":0.07},{"x":0.2,"y":0.08},{"x":0.22,"y":0.07},{"x":0.24,"y":0.06},{"x":0.26,"y":0.07},{"x":0.28,"y":0.06},{"x":0.05,"y":0.04},{"x":0.07,"y":0.04},{"x":0.09,"y":0.03},{"x":0.11,"y":0.04},{"x":0.13,"y":0.03},{"x":0.15,"y":0.04},{"x":0.17,"y":0.03},{"x":0.19,"y":0.04},{"x":0.21,"y":0.03},{"x":0.23,"y":0.04},{"x":0.25,"y":0.03},{"x":0.27,"y":0.04},{"x":0.29,"y":0.03},{"x":0.31,"y":0.035},{"x":0.33,"y":0.03},{"x":0.08,"y":0.015},{"x":0.17,"y":0.01},{"x":0.32,"y":0.06},{"x":0.1,"y":0.14},{"x":0.15,"y":0.145},{"x":0.23,"y":0.13}
    ],
    "p9": [
{"x":0.386,"y":0.421},{"x":0.183,"y":0.373},{"x":0.330,"y":0.358},{"x":0.315,"y":0.261},{"x":0.233,"y":0.243},{"x":0.310,"y":0.231},{"x":0.122,"y":0.221},{"x":0.213,"y":0.217},{"x":0.257,"y":0.206},{"x":0.266,"y":0.213},{"x":0.040,"y":0.184},{"x":0.074,"y":0.191},{"x":0.158,"y":0.199},{"x":0.195,"y":0.197},{"x":0.281,"y":0.181},{"x":0.340,"y":0.170},{"x":0.099,"y":0.172},{"x":0.124,"y":0.174},{"x":0.142,"y":0.165},{"x":0.188,"y":0.174},{"x":0.061,"y":0.156},{"x":0.233,"y":0.160},{"x":0.237,"y":0.150},{"x":0.175,"y":0.154},{"x":0.312,"y":0.143},{"x":0.083,"y":0.136},{"x":0.241,"y":0.130},{"x":0.216,"y":0.120},{"x":0.233,"y":0.104},{"x":0.127,"y":0.128},{"x":0.149,"y":0.124},{"x":0.172,"y":0.118},{"x":0.036,"y":0.116},{"x":0.089,"y":0.116},{"x":0.185,"y":0.092},{"x":0.215,"y":0.083},{"x":0.284,"y":0.090},{"x":0.261,"y":0.080},{"x":0.241,"y":0.068},{"x":0.279,"y":0.066},{"x":0.188,"y":0.071},{"x":0.195,"y":0.040},{"x":0.253,"y":0.031},{"x":0.182,"y":0.036},{"x":0.023,"y":0.040},{"x":0.043,"y":0.021},{"x":0.063,"y":0.033},{"x":0.083,"y":0.021},{"x":0.102,"y":0.033},{"x":0.122,"y":0.021},{"x":0.142,"y":0.033},{"x":0.162,"y":0.023},{"x":0.023,"y":0.066},{"x":0.043,"y":0.060},{"x":0.063,"y":0.073},{"x":0.083,"y":0.060},{"x":0.102,"y":0.070},{"x":0.122,"y":0.057},{"x":0.142,"y":0.066},{"x":0.158,"y":0.057},{"x":0.033,"y":0.088},{"x":0.053,"y":0.094},{"x":0.076,"y":0.086},{"x":0.099,"y":0.094},{"x":0.119,"y":0.086},{"x":0.139,"y":0.094},{"x":0.162,"y":0.100},{"x":0.040,"y":0.104},{"x":0.063,"y":0.108},{"x":0.116,"y":0.111},{"x":0.142,"y":0.114},{"x":0.013,"y":0.013},{"x":0.033,"y":0.008},{"x":0.056,"y":0.011},{"x":0.096,"y":0.013},{"x":0.135,"y":0.013},{"x":0.017,"y":0.051},{"x":0.050,"y":0.047},{"x":0.089,"y":0.047},{"x":0.116,"y":0.043},{"x":0.152,"y":0.043},{"x":0.073,"y":0.051},{"x":0.109,"y":0.077},
{"x":0.02,"y":0.03},{"x":0.03,"y":0.05},{"x":0.04,"y":0.07},{"x":0.05,"y":0.04},{"x":0.06,"y":0.06},{"x":0.07,"y":0.02},{"x":0.08,"y":0.08},{"x":0.09,"y":0.05},{"x":0.1,"y":0.02},{"x":0.11,"y":0.06},{"x":0.12,"y":0.09},{"x":0.13,"y":0.04},{"x":0.14,"y":0.08},{"x":0.15,"y":0.02},{"x":0.16,"y":0.07},{"x":0.17,"y":0.05},{"x":0.02,"y":0.09},{"x":0.04,"y":0.1},{"x":0.06,"y":0.12},{"x":0.08,"y":0.11},{"x":0.1,"y":0.13},{"x":0.12,"y":0.12},{"x":0.14,"y":0.105},{"x":0.16,"y":0.12},{"x":0.18,"y":0.1},{"x":0.19,"y":0.06},{"x":0.2,"y":0.08},{"x":0.03,"y":0.02},{"x":0.05,"y":0.015},{"x":0.08,"y":0.03},{"x":0.11,"y":0.035},{"x":0.14,"y":0.025},{"x":0.17,"y":0.015},{"x":0.1,"y":0.15},{"x":0.07,"y":0.14},{"x":0.13,"y":0.145},{"x":0.2,"y":0.13},{"x":0.18,"y":0.14},{"x":0.05,"y":0.13},{"x":0.025,"y":0.075}
    ]
  },
  "concat": [
    {
      "width": 618, "height": 653,
      "title": {"text": "AFR", "dx": 7},
      "layer": [
        {"data": {"name": "p1"}, "mark": {"type": "circle", "size": 320, "color": "#0000FF", "opacity": 1},
         "encoding": {
           "x": {"field": "x", "type": "quantitative", "scale": {"domain": [0, 1], "nice": false, "zero": false}, "axis": {"title": "46 indels", "values": [0, 0.2, 0.4, 0.6, 0.8, 1], "format": ".1f"}},
           "y": {"field": "y", "type": "quantitative", "scale": {"domain": [0, 1], "nice": false, "zero": false}, "axis": {"title": "55 SNPs", "values": [0, 0.2, 0.4, 0.6, 0.8, 1], "format": ".1f"}}}},
        {"data": {"values": [{}]}, "mark": {"type": "rule", "color": "#FF0000", "strokeWidth": 2.5}, "encoding": {"x": {"datum": 0}, "y": {"datum": 0}, "x2": {"datum": 1}, "y2": {"datum": 1}}},
        {"data": {"values": [{}]}, "mark": {"type": "rule", "color": "#0000FF", "strokeWidth": 3, "strokeDash": [4, 7], "clip": true}, "encoding": {"x": {"datum": 0}, "y": {"datum": 0.115}, "x2": {"datum": 1}, "y2": {"datum": 0.816}}},
        {"data": {"values": [{}]}, "mark": {"type": "text", "align": "right", "baseline": "alphabetic", "fontSize": 32, "font": "Liberation Sans", "color": "black"}, "encoding": {"x": {"datum": 0.978}, "y": {"datum": 0.04}, "text": {"value": "r = 0.768"}}}
      ]
    },
    {
      "width": 618, "height": 653,
      "layer": [
        {"data": {"name": "p2"}, "mark": {"type": "circle", "size": 320, "color": "#0000FF", "opacity": 1},
         "encoding": {
           "x": {"field": "x", "type": "quantitative", "scale": {"domain": [0, 1], "nice": false, "zero": false}, "axis": {"title": "46 indels", "values": [0, 0.2, 0.4, 0.6, 0.8, 1], "format": ".1f"}},
           "y": {"field": "y", "type": "quantitative", "scale": {"domain": [0, 1], "nice": false, "zero": false}, "axis": {"title": "122 SNPs", "values": [0, 0.2, 0.4, 0.6, 0.8, 1], "format": ".1f"}}}},
        {"data": {"values": [{}]}, "mark": {"type": "rule", "color": "#FF0000", "strokeWidth": 2.5}, "encoding": {"x": {"datum": 0}, "y": {"datum": 0}, "x2": {"datum": 1}, "y2": {"datum": 1}}},
        {"data": {"values": [{}]}, "mark": {"type": "rule", "color": "#0000FF", "strokeWidth": 3, "strokeDash": [4, 7], "clip": true}, "encoding": {"x": {"datum": 0}, "y": {"datum": 0.115}, "x2": {"datum": 1}, "y2": {"datum": 0.829}}},
        {"data": {"values": [{}]}, "mark": {"type": "text", "align": "right", "baseline": "alphabetic", "fontSize": 32, "font": "Liberation Sans", "color": "black"}, "encoding": {"x": {"datum": 0.978}, "y": {"datum": 0.04}, "text": {"value": "r = 0.773"}}}
      ]
    },
    {
      "width": 618, "height": 653,
      "layer": [
        {"data": {"name": "p3"}, "mark": {"type": "circle", "size": 320, "color": "#0000FF", "opacity": 1},
         "encoding": {
           "x": {"field": "x", "type": "quantitative", "scale": {"domain": [0, 1], "nice": false, "zero": false}, "axis": {"title": "55 SNPs", "values": [0, 0.2, 0.4, 0.6, 0.8, 1], "format": ".1f"}},
           "y": {"field": "y", "type": "quantitative", "scale": {"domain": [0, 1], "nice": false, "zero": false}, "axis": {"title": "122 SNPs", "values": [0, 0.2, 0.4, 0.6, 0.8, 1], "format": ".1f"}}}},
        {"data": {"values": [{}]}, "mark": {"type": "rule", "color": "#FF0000", "strokeWidth": 2.5}, "encoding": {"x": {"datum": 0}, "y": {"datum": 0}, "x2": {"datum": 1}, "y2": {"datum": 1}}},
        {"data": {"values": [{}]}, "mark": {"type": "rule", "color": "#0000FF", "strokeWidth": 3, "strokeDash": [4, 7], "clip": true}, "encoding": {"x": {"datum": 0}, "y": {"datum": 0.025}, "x2": {"datum": 1}, "y2": {"datum": 0.977}}},
        {"data": {"values": [{}]}, "mark": {"type": "text", "align": "right", "baseline": "alphabetic", "fontSize": 32, "font": "Liberation Sans", "color": "black"}, "encoding": {"x": {"datum": 0.978}, "y": {"datum": 0.04}, "text": {"value": "r = 0.942"}}}
      ]
    },
    {
      "width": 618, "height": 653,
      "title": {"text": "EUR", "dx": 22},
      "layer": [
        {"data": {"name": "p4"}, "mark": {"type": "circle", "size": 320, "color": "#0000FF", "opacity": 1},
         "encoding": {
           "x": {"field": "x", "type": "quantitative", "scale": {"domain": [0, 1], "nice": false, "zero": false}, "axis": {"title": "46 indels", "values": [0, 0.2, 0.4, 0.6, 0.8, 1], "format": ".1f"}},
           "y": {"field": "y", "type": "quantitative", "scale": {"domain": [0, 1], "nice": false, "zero": false}, "axis": {"title": "55 SNPs", "values": [0, 0.2, 0.4, 0.6, 0.8, 1], "format": ".1f"}}}},
        {"data": {"values": [{}]}, "mark": {"type": "rule", "color": "#FF0000", "strokeWidth": 2.5}, "encoding": {"x": {"datum": 0}, "y": {"datum": 0}, "x2": {"datum": 1}, "y2": {"datum": 1}}},
        {"data": {"values": [{}]}, "mark": {"type": "rule", "color": "#0000FF", "strokeWidth": 3, "strokeDash": [4, 7], "clip": true}, "encoding": {"x": {"datum": 0}, "y": {"datum": 0.116}, "x2": {"datum": 1}, "y2": {"datum": 0.788}}},
        {"data": {"values": [{}]}, "mark": {"type": "text", "align": "right", "baseline": "alphabetic", "fontSize": 32, "font": "Liberation Sans", "color": "black"}, "encoding": {"x": {"datum": 0.978}, "y": {"datum": 0.04}, "text": {"value": "r = 0.739"}}}
      ]
    },
    {
      "width": 618, "height": 653,
      "layer": [
        {"data": {"name": "p5"}, "mark": {"type": "circle", "size": 320, "color": "#0000FF", "opacity": 1},
         "encoding": {
           "x": {"field": "x", "type": "quantitative", "scale": {"domain": [0, 1], "nice": false, "zero": false}, "axis": {"title": "46 indels", "values": [0, 0.2, 0.4, 0.6, 0.8, 1], "format": ".1f"}},
           "y": {"field": "y", "type": "quantitative", "scale": {"domain": [0, 1], "nice": false, "zero": false}, "axis": {"title": "122 SNPs", "values": [0, 0.2, 0.4, 0.6, 0.8, 1], "format": ".1f"}}}},
        {"data": {"values": [{}]}, "mark": {"type": "rule", "color": "#FF0000", "strokeWidth": 2.5}, "encoding": {"x": {"datum": 0}, "y": {"datum": 0}, "x2": {"datum": 1}, "y2": {"datum": 1}}},
        {"data": {"values": [{}]}, "mark": {"type": "rule", "color": "#0000FF", "strokeWidth": 3, "strokeDash": [4, 7], "clip": true}, "encoding": {"x": {"datum": 0}, "y": {"datum": 0.078}, "x2": {"datum": 1}, "y2": {"datum": 0.767}}},
        {"data": {"values": [{}]}, "mark": {"type": "text", "align": "right", "baseline": "alphabetic", "fontSize": 32, "font": "Liberation Sans", "color": "black"}, "encoding": {"x": {"datum": 0.978}, "y": {"datum": 0.04}, "text": {"value": "r = 0.75"}}}
      ]
    },
    {
      "width": 618, "height": 653,
      "layer": [
        {"data": {"name": "p6"}, "mark": {"type": "circle", "size": 320, "color": "#0000FF", "opacity": 1},
         "encoding": {
           "x": {"field": "x", "type": "quantitative", "scale": {"domain": [0, 1], "nice": false, "zero": false}, "axis": {"title": "55 SNPs", "values": [0, 0.2, 0.4, 0.6, 0.8, 1], "format": ".1f"}},
           "y": {"field": "y", "type": "quantitative", "scale": {"domain": [0, 1], "nice": false, "zero": false}, "axis": {"title": "122 SNPs", "values": [0, 0.2, 0.4, 0.6, 0.8, 1], "format": ".1f"}}}},
        {"data": {"values": [{}]}, "mark": {"type": "rule", "color": "#FF0000", "strokeWidth": 2.5}, "encoding": {"x": {"datum": 0}, "y": {"datum": 0}, "x2": {"datum": 1}, "y2": {"datum": 1}}},
        {"data": {"values": [{}]}, "mark": {"type": "rule", "color": "#0000FF", "strokeWidth": 3, "strokeDash": [4, 7], "clip": true}, "encoding": {"x": {"datum": 0.005}, "y": {"datum": 0}, "x2": {"datum": 1}, "y2": {"datum": 0.93}}},
        {"data": {"values": [{}]}, "mark": {"type": "text", "align": "right", "baseline": "alphabetic", "fontSize": 32, "font": "Liberation Sans", "color": "black"}, "encoding": {"x": {"datum": 0.978}, "y": {"datum": 0.04}, "text": {"value": "r = 0.931"}}}
      ]
    },
    {
      "width": 618, "height": 653,
      "title": {"text": "NAM", "dx": 9},
      "layer": [
        {"data": {"name": "p7"}, "mark": {"type": "circle", "size": 320, "color": "#0000FF", "opacity": 1},
         "encoding": {
           "x": {"field": "x", "type": "quantitative", "scale": {"domain": [0, 1], "nice": false, "zero": false}, "axis": {"title": "46 indels", "values": [0, 0.2, 0.4, 0.6, 0.8, 1], "format": ".1f"}},
           "y": {"field": "y", "type": "quantitative", "scale": {"domain": [0, 1], "nice": false, "zero": false}, "axis": {"title": "55 SNPs", "values": [0, 0.2, 0.4, 0.6, 0.8, 1], "format": ".1f"}}}},
        {"data": {"values": [{}]}, "mark": {"type": "rule", "color": "#FF0000", "strokeWidth": 2.5}, "encoding": {"x": {"datum": 0}, "y": {"datum": 0}, "x2": {"datum": 1}, "y2": {"datum": 1}}},
        {"data": {"values": [{}]}, "mark": {"type": "rule", "color": "#0000FF", "strokeWidth": 3, "strokeDash": [4, 7], "clip": true}, "encoding": {"x": {"datum": 0}, "y": {"datum": 0.113}, "x2": {"datum": 1}, "y2": {"datum": 0.535}}},
        {"data": {"values": [{}]}, "mark": {"type": "text", "align": "right", "baseline": "alphabetic", "fontSize": 32, "font": "Liberation Sans", "color": "black"}, "encoding": {"x": {"datum": 0.978}, "y": {"datum": 0.04}, "text": {"value": "r = 0.337"}}}
      ]
    },
    {
      "width": 618, "height": 653,
      "layer": [
        {"data": {"name": "p8"}, "mark": {"type": "circle", "size": 320, "color": "#0000FF", "opacity": 1},
         "encoding": {
           "x": {"field": "x", "type": "quantitative", "scale": {"domain": [0, 1], "nice": false, "zero": false}, "axis": {"title": "46 indels", "values": [0, 0.2, 0.4, 0.6, 0.8, 1], "format": ".1f"}},
           "y": {"field": "y", "type": "quantitative", "scale": {"domain": [0, 1], "nice": false, "zero": false}, "axis": {"title": "122 SNPs", "values": [0, 0.2, 0.4, 0.6, 0.8, 1], "format": ".1f"}}}},
        {"data": {"values": [{}]}, "mark": {"type": "rule", "color": "#FF0000", "strokeWidth": 2.5}, "encoding": {"x": {"datum": 0}, "y": {"datum": 0}, "x2": {"datum": 1}, "y2": {"datum": 1}}},
        {"data": {"values": [{}]}, "mark": {"type": "rule", "color": "#0000FF", "strokeWidth": 3, "strokeDash": [4, 7], "clip": true}, "encoding": {"x": {"datum": 0}, "y": {"datum": 0.124}, "x2": {"datum": 1}, "y2": {"datum": 0.598}}},
        {"data": {"values": [{}]}, "mark": {"type": "text", "align": "right", "baseline": "alphabetic", "fontSize": 32, "font": "Liberation Sans", "color": "black"}, "encoding": {"x": {"datum": 0.978}, "y": {"datum": 0.04}, "text": {"value": "r = 0.343"}}}
      ]
    },
    {
      "width": 618, "height": 653,
      "layer": [
        {"data": {"name": "p9"}, "mark": {"type": "circle", "size": 320, "color": "#0000FF", "opacity": 1},
         "encoding": {
           "x": {"field": "x", "type": "quantitative", "scale": {"domain": [0, 1], "nice": false, "zero": false}, "axis": {"title": "55 SNPs", "values": [0, 0.2, 0.4, 0.6, 0.8, 1], "format": ".1f"}},
           "y": {"field": "y", "type": "quantitative", "scale": {"domain": [0, 1], "nice": false, "zero": false}, "axis": {"title": "122 SNPs", "values": [0, 0.2, 0.4, 0.6, 0.8, 1], "format": ".1f"}}}},
        {"data": {"values": [{}]}, "mark": {"type": "rule", "color": "#FF0000", "strokeWidth": 2.5}, "encoding": {"x": {"datum": 0}, "y": {"datum": 0}, "x2": {"datum": 1}, "y2": {"datum": 1}}},
        {"data": {"values": [{}]}, "mark": {"type": "rule", "color": "#0000FF", "strokeWidth": 3, "strokeDash": [4, 7], "clip": true}, "encoding": {"x": {"datum": 0}, "y": {"datum": 0.061}, "x2": {"datum": 1}, "y2": {"datum": 0.709}}},
        {"data": {"values": [{}]}, "mark": {"type": "text", "align": "right", "baseline": "alphabetic", "fontSize": 32, "font": "Liberation Sans", "color": "black"}, "encoding": {"x": {"datum": 0.978}, "y": {"datum": 0.04}, "text": {"value": "r = 0.587"}}}
      ]
    }
  ],
  "columns": 3,
  "spacing": {"row": 250, "column": 300},
  "bounds": "flush"
}
